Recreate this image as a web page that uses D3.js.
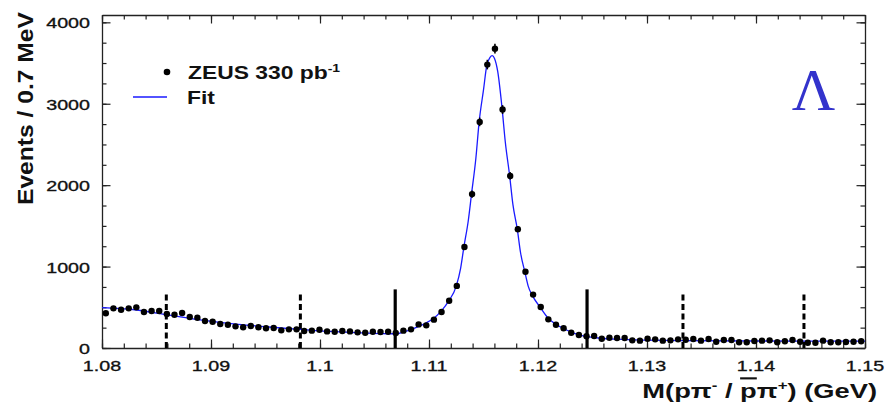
<!DOCTYPE html>
<html>
<head>
<meta charset="utf-8">
<script src="https://cdn.jsdelivr.net/npm/d3@7"></script>
<style>
  html, body { margin: 0; padding: 0; background: #fff; }
  svg { display: block; }
  text { font-family: "Liberation Sans", Arial, Helvetica, sans-serif; fill: #111; }
  .tick-label { stroke: #111; stroke-width: 0.35px; }
</style>
</head>
<body>
<div id="chart"></div>
<script>
// Lambda invariant mass, 0.7 MeV bins from 1.08 GeV
const binStart = 1.08;
const binWidth = 0.0007;

const counts = [
    426, 487, 470, 487, 499, 442, 454, 454, 417, 409,
    429, 380, 372, 331, 323, 294, 286, 266, 254, 270,
    254, 242, 245, 217, 229, 229, 209, 213, 225, 204,
    200, 209, 204, 192, 188, 200, 196, 200, 185, 213,
    229, 290, 278, 348, 442, 581, 763, 1240, 1890, 2777,
    3481, 3677, 2929, 2114, 1460, 936, 656, 503, 352, 286,
    242, 188, 160, 145, 147, 114, 126, 123, 123, 94,
    90, 114, 106, 90, 94, 106, 102, 110, 90, 110,
    77, 98, 98, 70, 70, 86, 90, 94, 70, 82,
    98, 77, 65, 65, 90, 70, 70, 74, 77, 82
];

// fit curve
const fitMass = [
    1.0800, 1.0830, 1.0860, 1.0890, 1.0925, 1.0953, 1.0982, 1.1014, 1.1049, 1.1070,
    1.1077, 1.1083, 1.1090, 1.1097, 1.1104, 1.1111, 1.1118, 1.1125, 1.1129, 1.1132,
    1.1136, 1.1139, 1.1143, 1.1146, 1.1150, 1.1153, 1.1156, 1.1158, 1.1160, 1.1163,
    1.1167, 1.1170, 1.1174, 1.1177, 1.1181, 1.1184, 1.1188, 1.1191, 1.1195, 1.1202,
    1.1209, 1.1216, 1.1223, 1.1230, 1.1237, 1.1244, 1.1258, 1.1272, 1.1300, 1.1330,
    1.1400, 1.1500
];
const fitValue = [
    495, 470, 408, 345, 290, 258, 229, 200, 180, 175,
    198, 222, 262, 305, 362, 450, 575, 760, 978, 1240,
    1560, 1890, 2330, 2777, 3170, 3470, 3570, 3590, 3560, 3400,
    2950, 2530, 2114, 1760, 1460, 1170, 930, 760, 640, 500,
    370, 295, 242, 198, 165, 142, 120, 108, 96, 90,
    86, 84
];

// signal window (solid) and side bands (dashed)
const cutMass = [1.0859, 1.0982, 1.1069, 1.1245, 1.1333, 1.1444];
const cutDashed = [true, true, false, false, true, true];
const cutTop = [690, 690, 720, 720, 690, 690];

const xTicks = [1.08, 1.09, 1.10, 1.11, 1.12, 1.13, 1.14, 1.15];
const xTickLabels = ['1.08', '1.09', '1.1', '1.11', '1.12', '1.13', '1.14', '1.15'];
const yTicks = [0, 1000, 2000, 3000, 4000];
const yTickLabels = ['0', '1000', '2000', '3000', '4000'];

const legendLabels = ['ZEUS 330 pb', 'Fit'];

class LambdaChart {
    constructor() {
        this.width = 887;
        this.height = 405;
        this.plot = { left: 102, right: 865, top: 15, bottom: 348 };
        this.stretch = 1.27;   // text in the original is drawn wide
        this.init();
    }

    init() {
        this.setupSVG();
        this.setupScales();
        this.drawAxes();
        this.drawCuts();
        this.drawFit();
        this.drawPoints();
        this.drawLabels();
        this.drawLegend();
    }

    setupSVG() {
        this.svg = d3.select('#chart')
            .append('svg')
            .attr('width', this.width)
            .attr('height', this.height);
    }

    setupScales() {
        this.x = d3.scaleLinear()
            .domain([1.08, 1.15])
            .range([this.plot.left, this.plot.right]);
        this.y = d3.scaleLinear()
            .domain([0, 4090])
            .range([this.plot.bottom, this.plot.top]);
    }

    styleAxis(g) {
        g.selectAll('path').style('stroke', '#222').style('stroke-width', 1.3);
        g.selectAll('line').style('stroke', '#222').style('stroke-width', 1.2);
    }

    drawAxes() {
        const p = this.plot;
        const xMinor = d3.range(0, 36).map(i => 1.08 + i * 0.002);
        const yMinor = d3.range(0, 17).map(i => i * 250);

        const axes = [
            { make: d3.axisBottom, scale: this.x, pos: `translate(0,${p.bottom})`, major: xTicks, minor: xMinor },
            { make: d3.axisTop, scale: this.x, pos: `translate(0,${p.top})`, major: xTicks, minor: xMinor },
            { make: d3.axisLeft, scale: this.y, pos: `translate(${p.left},0)`, major: yTicks, minor: yMinor },
            { make: d3.axisRight, scale: this.y, pos: `translate(${p.right},0)`, major: yTicks, minor: yMinor }
        ];

        axes.forEach(a => {
            // minor ticks
            const gm = this.svg.append('g')
                .attr('transform', a.pos)
                .call(a.make(a.scale).tickValues(a.minor).tickSizeInner(-4.5).tickSizeOuter(0).tickFormat(''));
            gm.select('.domain').remove();
            this.styleAxis(gm);

            // major ticks + axis line
            const g = this.svg.append('g')
                .attr('transform', a.pos)
                .call(a.make(a.scale).tickValues(a.major).tickSizeInner(-8.5).tickSizeOuter(0).tickFormat(''));
            this.styleAxis(g);
        });
    }

    drawLabels() {
        const s = this.stretch;

        // x tick labels
        this.svg.append('g')
            .selectAll('text')
            .data(xTicks)
            .join('text')
            .attr('class', 'tick-label')
            .attr('transform', d => `translate(${this.x(d)},371) scale(${s},1)`)
            .attr('text-anchor', 'middle')
            .style('font-size', '15.5px')
            .text((d, i) => xTickLabels[i]);

        // y tick labels
        this.svg.append('g')
            .selectAll('text')
            .data(yTicks)
            .join('text')
            .attr('class', 'tick-label')
            .attr('transform', d => `translate(90,${this.y(d) + 6}) scale(${s},1)`)
            .attr('text-anchor', 'end')
            .style('font-size', '15.5px')
            .text((d, i) => yTickLabels[i]);

        // y title
        this.svg.append('text')
            .attr('transform', 'translate(33,12) rotate(-90)')
            .attr('text-anchor', 'end')
            .attr('textLength', 193)
            .attr('lengthAdjust', 'spacingAndGlyphs')
            .style('font-size', '22px')
            .style('font-weight', 'bold')
            .text('Events / 0.7 MeV');

        // x title
        const xt = this.svg.append('text')
            .attr('transform', `translate(877,398) scale(1.3,1)`)
            .attr('text-anchor', 'end')
            .style('font-size', '21px')
            .style('font-weight', 'bold');
        xt.append('tspan').text('M(p\u03c0');
        xt.append('tspan').attr('dy', -8).style('font-size', '13px').text('-');
        xt.append('tspan').attr('dy', 8).text(' / ');
        xt.append('tspan').style('text-decoration', 'overline').text('p');
        xt.append('tspan').text('\u03c0');
        xt.append('tspan').attr('dy', -8).style('font-size', '13px').text('+');
        xt.append('tspan').attr('dy', 8).text(') (GeV)');

        // Lambda symbol
        this.svg.append('text')
            .attr('x', 813.5)
            .attr('y', 110)
            .attr('text-anchor', 'middle')
            .style('font-family', '"Liberation Serif", "Times New Roman", serif')
            .style('font-size', '60px')
            .style('fill', '#3333cc')
            .text('\u039b');
    }

    drawCuts() {
        const cuts = cutMass.map((m, i) => ({ m, dashed: cutDashed[i], top: cutTop[i] }));
        this.svg.append('g')
            .selectAll('line')
            .data(cuts)
            .join('line')
            .attr('x1', d => this.x(d.m))
            .attr('x2', d => this.x(d.m))
            .attr('y1', this.y(0))
            .attr('y2', d => this.y(d.top))
            .style('stroke', '#000')
            .style('stroke-width', d => d.dashed ? 3 : 3.2)
            .style('stroke-dasharray', d => d.dashed ? '6,3.5' : null);
    }

    drawFit() {
        const pts = fitMass.map((m, i) => [m, fitValue[i]]);
        const line = d3.line()
            .x(d => this.x(d[0]))
            .y(d => this.y(d[1]))
            .curve(d3.curveMonotoneX);
        this.svg.append('path')
            .datum(pts)
            .attr('d', line)
            .style('fill', 'none')
            .style('stroke', '#1a1aff')
            .style('stroke-width', 1.3);
    }

    drawPoints() {
        const data = counts.map((c, i) => ({
            m: binStart + (i + 0.5) * binWidth,
            c,
            err: Math.sqrt(c)
        }));
        const g = this.svg.append('g');
        g.selectAll('line')
            .data(data)
            .join('line')
            .attr('x1', d => this.x(d.m))
            .attr('x2', d => this.x(d.m))
            .attr('y1', d => this.y(d.c - d.err))
            .attr('y2', d => this.y(d.c + d.err))
            .style('stroke', '#000')
            .style('stroke-width', 1.6);
        g.selectAll('circle')
            .data(data)
            .join('circle')
            .attr('cx', d => this.x(d.m))
            .attr('cy', d => this.y(d.c))
            .attr('r', 3.2)
            .style('fill', '#000');
    }

    drawLegend() {
        const s = this.stretch;
        const g = this.svg.append('g');

        g.append('circle').attr('cx', 167).attr('cy', 72).attr('r', 3.3).style('fill', '#000');
        g.append('line')
            .attr('x1', 133).attr('x2', 167)
            .attr('y1', 97).attr('y2', 97)
            .style('stroke', '#1a1aff')
            .style('stroke-width', 1.3);

        const t1 = g.append('text')
            .attr('transform', `translate(188,78.5) scale(${s},1)`)
            .style('font-size', '18px')
            .style('font-weight', 'bold');
        t1.append('tspan').text(legendLabels[0]);
        t1.append('tspan').attr('dy', -7).style('font-size', '11px').text('-1');

        g.append('text')
            .attr('transform', `translate(187,103.5) scale(${s},1)`)
            .style('font-size', '18px')
            .style('font-weight', 'bold')
            .text(legendLabels[1]);
    }
}

document.addEventListener('DOMContentLoaded', () => {
    new LambdaChart();
});
</script>
</body>
</html>
